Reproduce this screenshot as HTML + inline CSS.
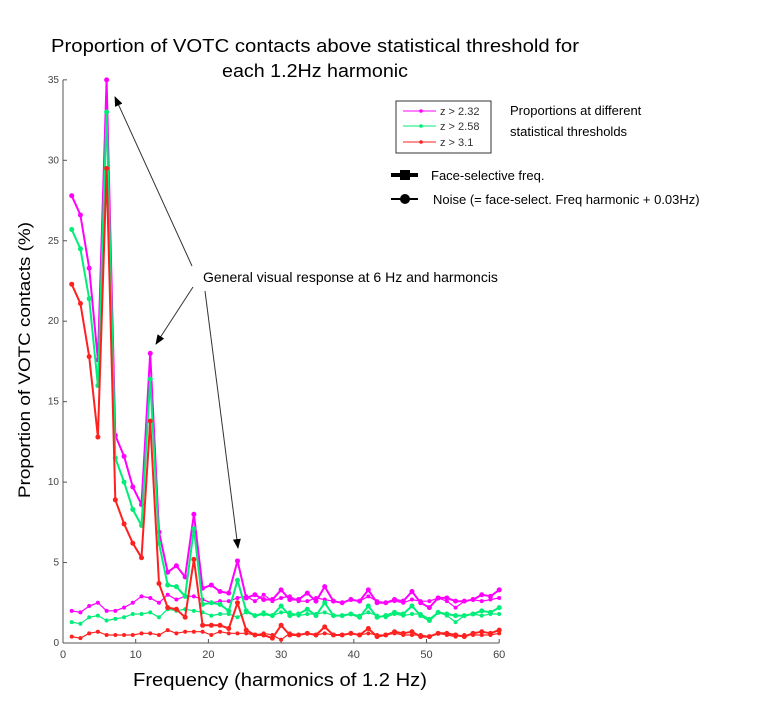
<!DOCTYPE html>
<html><head><meta charset="utf-8"><style>
body{margin:0;background:#fff;}
svg{display:block;font-family:"Liberation Sans",sans-serif;}
</style></head><body>
<svg id="chart" width="768" height="725" viewBox="0 0 768 725">
<defs><marker id="ah" markerWidth="10" markerHeight="8" refX="9" refY="4" orient="auto"><path d="M0,0 L10,4 L0,8 Z" fill="#000"/></marker></defs>
<text x="315" y="52" font-size="18" text-anchor="middle" textLength="528" lengthAdjust="spacingAndGlyphs">Proportion of VOTC contacts above statistical threshold for</text>
<text x="315" y="77" font-size="18" text-anchor="middle" textLength="186" lengthAdjust="spacingAndGlyphs">each 1.2Hz harmonic</text>
<text transform="translate(30,360) rotate(-90)" font-size="17" text-anchor="middle" textLength="276" lengthAdjust="spacingAndGlyphs">Proportion of VOTC contacts (%)</text>
<text x="280" y="686" font-size="18" text-anchor="middle" textLength="294" lengthAdjust="spacingAndGlyphs">Frequency (harmonics of 1.2 Hz)</text>
<g id="axes"></g>
<g id="series"></g>
<rect x="396" y="101" width="95" height="52" fill="none" stroke="#333"/>
<g><line x1="403" y1="111" x2="436" y2="111" stroke="#ff00ff"/><circle cx="421" cy="111" r="1.8" fill="#ff00ff"/><text x="440" y="115" font-size="11" fill="#333">z &gt; 2.32</text></g>
<g><line x1="403" y1="126" x2="436" y2="126" stroke="#00ee77"/><circle cx="421" cy="126" r="1.8" fill="#00ee77"/><text x="440" y="130" font-size="11" fill="#333">z &gt; 2.58</text></g>
<g><line x1="403" y1="142" x2="436" y2="142" stroke="#ff2020"/><circle cx="421" cy="142" r="1.8" fill="#ff2020"/><text x="440" y="146" font-size="11" fill="#333">z &gt; 3.1</text></g>
<text x="510" y="115" font-size="13">Proportions at different</text>
<text x="510" y="136" font-size="13">statistical thresholds</text>
<g><line x1="391" y1="175" x2="418" y2="175" stroke="#000" stroke-width="4"/><rect x="400" y="170" width="10" height="10" fill="#000"/><text x="431" y="180" font-size="13">Face-selective freq.</text></g>
<g><line x1="391" y1="199" x2="418" y2="199" stroke="#000" stroke-width="2"/><circle cx="405" cy="199" r="5" fill="#000"/><text x="433" y="204" font-size="13">Noise (= face-select. Freq harmonic + 0.03Hz)</text></g>
<text x="203" y="282" font-size="14">General visual response at 6 Hz and harmoncis</text>
<line x1="192" y1="266" x2="115" y2="97" stroke="#333" marker-end="url(#ah)"/>
<line x1="193" y1="287" x2="156" y2="344" stroke="#333" marker-end="url(#ah)"/>
<line x1="205" y1="291" x2="238" y2="548" stroke="#333" marker-end="url(#ah)"/>
</svg>
<script>
const harmonics = [1,2,3,4,5,6,7,8,9,10,11,12,13,14,15,16,17,18,19,20,21,22,23,24,25,26,27,28,29,30,31,32,33,34,35,36,37,38,39,40,41,42,43,44,45,46,47,48,49,50];
const sigMagenta = [27.8,26.6,23.3,17.6,35,12.9,11.6,9.7,8.6,18,6.9,4.4,4.8,4.1,8,3.4,3.6,3.2,3.1,5.1,2.8,3.0,2.7,2.7,3.3,2.7,2.7,3.1,2.6,3.5,2.6,2.5,2.7,2.6,3.3,2.5,2.5,2.7,2.6,3.2,2.5,2.2,2.8,2.8,2.6,2.6,2.7,3.0,2.9,3.3];
const sigGreen = [25.7,24.5,21.4,16,33,11.5,10,8.3,7.3,16.4,6.2,3.6,3.5,2.9,7.1,2.4,2.5,2.4,2.0,3.9,2.0,1.7,1.8,1.7,2.3,1.7,1.8,2.1,1.7,2.5,1.7,1.7,1.8,1.6,2.3,1.6,1.7,1.9,1.8,2.3,1.7,1.4,1.9,1.8,1.7,1.7,1.8,2.0,1.9,2.2];
const sigRed = [22.3,21.1,17.8,12.8,29.5,8.9,7.4,6.2,5.3,13.8,3.7,2.2,2.1,1.6,5.2,1.1,1.1,1.1,0.9,2.5,0.8,0.5,0.5,0.3,1.1,0.5,0.5,0.6,0.5,1.0,0.5,0.5,0.6,0.5,0.9,0.4,0.5,0.7,0.6,0.7,0.4,0.4,0.6,0.6,0.5,0.4,0.6,0.7,0.6,0.8];
const noiseMagenta = [2.0,1.9,2.3,2.5,2.0,2.0,2.2,2.5,2.9,2.8,2.5,3.0,2.7,2.9,2.9,2.7,2.5,2.6,2.6,2.8,2.9,2.6,3.0,2.6,2.8,2.9,2.6,2.6,2.8,2.7,2.6,2.5,2.7,2.6,2.9,2.6,2.5,2.6,2.5,2.7,2.6,2.6,2.8,2.6,2.2,2.6,2.7,2.6,2.7,2.8];
const noiseGreen = [1.3,1.2,1.6,1.7,1.4,1.5,1.6,1.8,1.8,1.9,1.6,2.1,2.0,2.1,2.0,1.9,1.7,1.8,1.8,1.6,1.9,1.7,1.9,1.7,1.9,1.9,1.7,1.8,1.8,1.9,1.7,1.7,1.8,1.7,1.9,1.7,1.6,1.8,1.7,1.8,1.8,1.5,1.9,1.7,1.3,1.7,1.8,1.7,1.8,1.8];
const noiseRed = [0.4,0.3,0.6,0.7,0.5,0.5,0.5,0.5,0.6,0.6,0.5,0.8,0.6,0.7,0.7,0.7,0.5,0.7,0.6,0.6,0.6,0.5,0.6,0.5,0.2,0.6,0.5,0.6,0.5,0.6,0.5,0.5,0.6,0.5,0.6,0.5,0.5,0.6,0.5,0.5,0.5,0.4,0.6,0.5,0.4,0.5,0.5,0.5,0.5,0.6];
const yTicks = [0,5,10,15,20,25,30,35];
const xTicks = [0,10,20,30,40,50,60];
const hzStep = 1.2;

const NS = 'http://www.w3.org/2000/svg';
const X0 = 63, XS = 7.27, Y0 = 643, YS = 16.09;
function xScale(v){ return X0 + v*XS; }
function yScale(v){ return Y0 - v*YS; }
function mk(tag, attrs, parent){ const e = document.createElementNS(NS, tag); for (const k in attrs) e.setAttribute(k, attrs[k]); parent.appendChild(e); return e; }

const axes = document.getElementById('axes');
const yAxis = mk('line', {x1:X0, y1:yScale(35), x2:X0, y2:Y0, stroke:'#555'}, axes);


const xAxis = mk('line', {x1:X0, y1:Y0, x2:xScale(60), y2:Y0, stroke:'#555'}, axes);


yTicks.forEach(t => {
  const tk = mk('line', {x1:X0, y1:yScale(t), x2:X0+4, y2:yScale(t), stroke:'#555'}, axes);
  
  
  const lb = mk('text', {x:X0-4, y:yScale(t)+3, 'font-size':10, fill:'#444', 'text-anchor':'end'}, axes);
  lb.textContent = t;
  
  
});
xTicks.forEach(t => {
  const tk = mk('line', {x1:xScale(t), y1:Y0, x2:xScale(t), y2:Y0-4, stroke:'#555'}, axes);
  
  
  const lb = mk('text', {x:xScale(t), y:Y0+15, 'font-size':11, fill:'#444', 'text-anchor':'middle'}, axes);
  lb.textContent = t;
  
  
});

const series = document.getElementById('series');
function drawSeries(vals, color, width, r, name){
  const g = mk('g', {}, series);
  
  
  const pts = harmonics.map((h,i) => xScale(h*hzStep).toFixed(1)+','+yScale(vals[i]).toFixed(1)).join(' ');
  mk('polyline', {points:pts, fill:'none', stroke:color, 'stroke-width':width, 'stroke-linejoin':'round'}, g);
  harmonics.forEach((h,i) => {
    const c = mk('circle', {cx:xScale(h*hzStep), cy:yScale(vals[i]), r:r, fill:color}, g);
    
    
  });
}
drawSeries(noiseMagenta, '#ff00ff', 1.2, 2, 'noise-z232-line');
drawSeries(noiseGreen, '#00ee77', 1.2, 2, 'noise-z258-line');
drawSeries(noiseRed, '#ff2020', 1.2, 2, 'noise-z31-line');
drawSeries(sigMagenta, '#ff00ff', 2, 2.5, 'signal-z232-line');
drawSeries(sigGreen, '#00ee77', 2, 2.5, 'signal-z258-line');
drawSeries(sigRed, '#ff2020', 2, 2.5, 'signal-z31-line');
</script>
</body></html>
